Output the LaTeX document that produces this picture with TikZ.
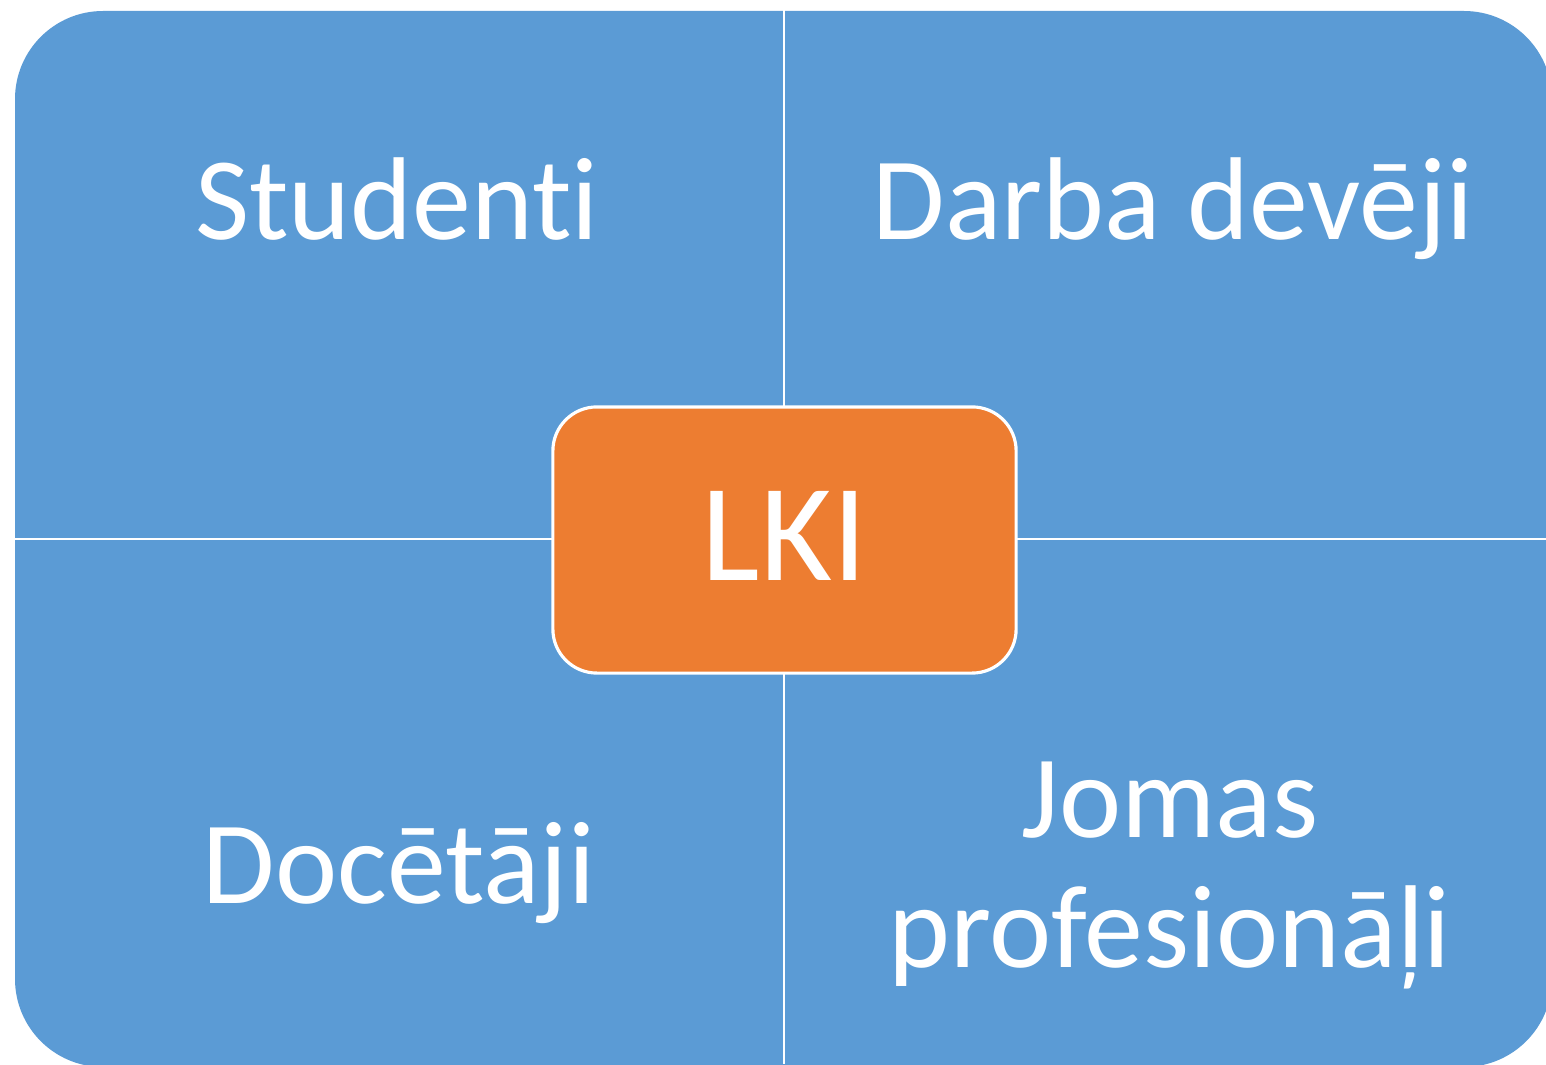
\documentclass[tikz,border=0pt]{standalone}
\usepackage{fontspec}
\setmainfont{Carlito}[Ligatures=NoCommon]
\usetikzlibrary{positioning}
\definecolor{panelblue}{HTML}{5B9BD5}
\definecolor{huborange}{HTML}{ED7D31}

\begin{document}
\begin{tikzpicture}[x=0.01cm,y=-0.01cm,
	group/.style={text=white,font=\fontsize{33.5}{36.7}\selectfont,align=center,anchor=base},
	hub/.style={rectangle,rounded corners=0.44cm,fill=huborange,draw=white,line width=0.9pt,
		minimum width=4.63cm,minimum height=2.66cm,text height=0.85cm,text depth=0.05cm,
		text=white,font=\fontsize{39.5}{48}\selectfont},
	divider/.style={white,line width=0.8pt}]
	\useasboundingbox (0,0) rectangle (1546,1064);
	\clip (0,0) rectangle (1546,1064);
	\fill[panelblue,rounded corners=0.88cm] (15,11) rectangle (1552,1067);
	% dividers between the four groups
	\coordinate (top) at (784,0);
	\coordinate (bottom) at (784,1064);
	\coordinate (left) at (15,539);
	\coordinate (right) at (1546,539);
	\draw[divider] (top) -- (bottom);
	\draw[divider] (left) -- (right);
	\node[group] (studenti) at (397,240) {Studenti};
	\node[group] (devveji) at (1173,240) {Darba devēji};
	\node[group] (docetaji) at (399,903) {Docētāji};
	\node[group] (profesionali) at (1170,967) {Jomas\\profesionāļi};
	\node[hub] (lki) at (784.5,540) {LKI};
\end{tikzpicture}
\end{document}
